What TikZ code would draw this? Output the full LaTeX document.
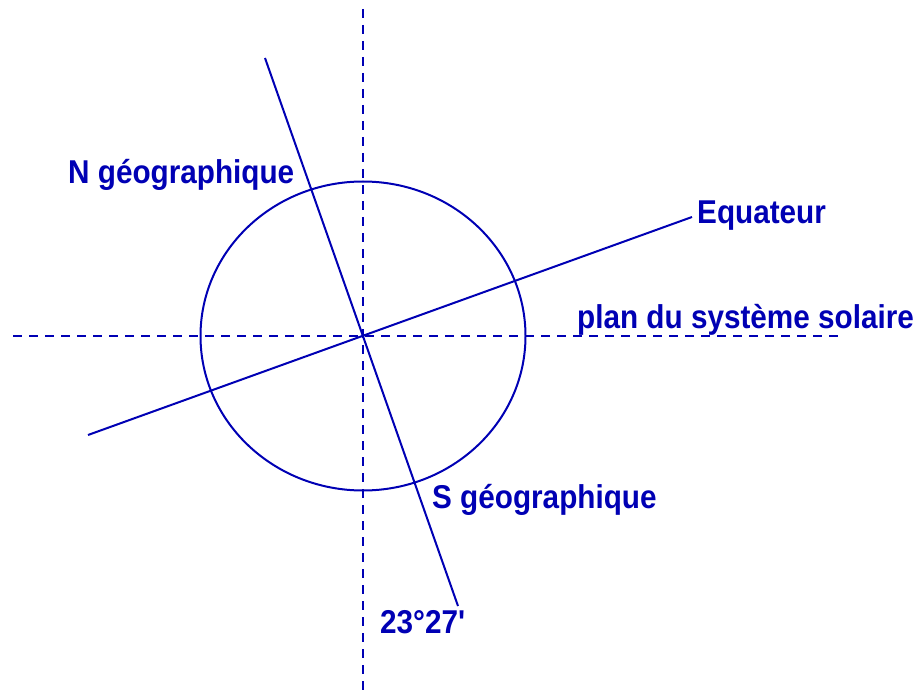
\documentclass[tikz,border=0pt]{standalone}
\usepackage{fontspec}
\setmainfont{Liberation Sans}[FakeStretch=0.9]
\definecolor{ink}{RGB}{0,0,180}
\begin{document}
\begin{tikzpicture}[x=1pt,y=-1pt,
  line/.style={draw=ink,line width=2pt},
  dline/.style={draw=ink,line width=2.6pt,dash pattern=on 9pt off 7pt},
  lbl/.style={text=ink,font=\fontsize{33}{36}\selectfont\bfseries,anchor=base west,inner sep=0pt}]
\useasboundingbox (0,0) rectangle (919,690);
\coordinate (O) at (363,336);
\coordinate (Vt) at (363,9);
\coordinate (Vb) at (363,690);
\coordinate (Hl) at (13,336);
\coordinate (Hr) at (838,336);
\coordinate (Nt) at (265,58);
\coordinate (Sb) at (458,606);
\coordinate (El) at (88,435);
\coordinate (Er) at (692,217);
\draw[dline] (Vt) -- (Vb);
\draw[dline] (Hl) -- (Hr);
\draw[line] (O) ellipse [x radius=162.5, y radius=154.5];
\draw[line] (Nt) -- (Sb);
\draw[line] (El) -- (Er);
\node[lbl] (N) at (68,183) {N géographique};
\node[lbl] (E) at (697,223) {Equateur};
\node[lbl] (P) at (577,328) {plan du système solaire};
\node[lbl] (S) at (432,508) {S géographique};
\node[lbl] (A) at (380,633) {23°27\textquotesingle};
\end{tikzpicture}
\end{document}
